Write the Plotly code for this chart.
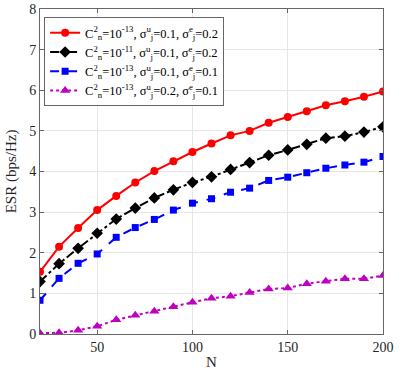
import plotly.graph_objects as go

N = list(range(20, 201, 10))
red = [1.53, 2.15, 2.61, 3.05, 3.40, 3.73, 4.01, 4.25, 4.48, 4.69, 4.89, 5.00, 5.20, 5.34, 5.48, 5.63, 5.73, 5.84, 5.97]
black = [1.29, 1.73, 2.11, 2.48, 2.83, 3.10, 3.35, 3.55, 3.73, 3.87, 4.05, 4.22, 4.40, 4.53, 4.67, 4.82, 4.87, 4.97, 5.10]
blue = [0.83, 1.37, 1.74, 1.97, 2.38, 2.62, 2.82, 3.05, 3.22, 3.33, 3.49, 3.59, 3.78, 3.86, 3.97, 4.08, 4.16, 4.23, 4.37]
magenta = [0.02, 0.03, 0.09, 0.19, 0.35, 0.46, 0.56, 0.67, 0.78, 0.88, 0.93, 1.02, 1.11, 1.13, 1.24, 1.30, 1.36, 1.36, 1.44]

names = [
    "C<sup>2</sup><sub>n</sub>=10<sup>-13</sup>, σ<sup>u</sup><sub>j</sub>=0.1, σ<sup>e</sup><sub>j</sub>=0.2",
    "C<sup>2</sup><sub>n</sub>=10<sup>-11</sup>, σ<sup>u</sup><sub>j</sub>=0.1, σ<sup>e</sup><sub>j</sub>=0.2",
    "C<sup>2</sup><sub>n</sub>=10<sup>-13</sup>, σ<sup>u</sup><sub>j</sub>=0.1, σ<sup>e</sup><sub>j</sub>=0.1",
    "C<sup>2</sup><sub>n</sub>=10<sup>-13</sup>, σ<sup>u</sup><sub>j</sub>=0.2, σ<sup>e</sup><sub>j</sub>=0.1",
]

styles = [
    (red, "#ff0000", "solid", "circle", 8),
    (black, "#000000", "dashdot", "diamond", 9),
    (blue, "#0000ff", "dash", "square", 7),
    (magenta, "#c000c0", "dot", "triangle-up", 9),
]

SERIF = "'Liberation Serif', 'Times New Roman', Times, serif"

fig = go.Figure()
for (vals, col, dash, sym, ms), nm in zip(styles, names):
    fig.add_trace(go.Scatter(
        x=N, y=vals, name=nm, mode="lines+markers",
        line=dict(color=col, width=2, dash=dash),
        marker=dict(color=col, symbol=sym, size=ms),
    ))

axis_common = dict(
    showline=True, linecolor="#666666", linewidth=1, mirror="ticks",
    ticks="inside", ticklen=4, tickcolor="#666666",
    showgrid=True, gridcolor="#e6e6e6", gridwidth=1, zeroline=False,
    automargin=False,
    tickfont=dict(family=SERIF, size=14, color="#262626"),
    title_font=dict(family=SERIF, size=15, color="#262626"),
)

fig.update_xaxes(range=[20, 200], tickvals=[50, 100, 150, 200], title_text="N",
                 title_standoff=2, **axis_common)
fig.update_yaxes(range=[0, 8], tickvals=list(range(0, 9)), title_text="ESR (bps/Hz)",
                 title_standoff=8, **axis_common)

fig.update_layout(
    width=415, height=373,
    margin=dict(l=40, r=32, t=9, b=39, autoexpand=False),
    plot_bgcolor="white", paper_bgcolor="white",
    font=dict(family=SERIF, color="#262626"),
    legend=dict(
        x=0.012, y=0.975, xanchor="left", yanchor="top",
        bgcolor="white", bordercolor="#666666", borderwidth=1,
        font=dict(family=SERIF, size=12.5, color="#000000"),
        tracegroupgap=0, itemwidth=30,
    ),
)

fig.write_html("out.html", config={"displayModeBar": False},
               post_script="document.body.style.margin='0px';")
